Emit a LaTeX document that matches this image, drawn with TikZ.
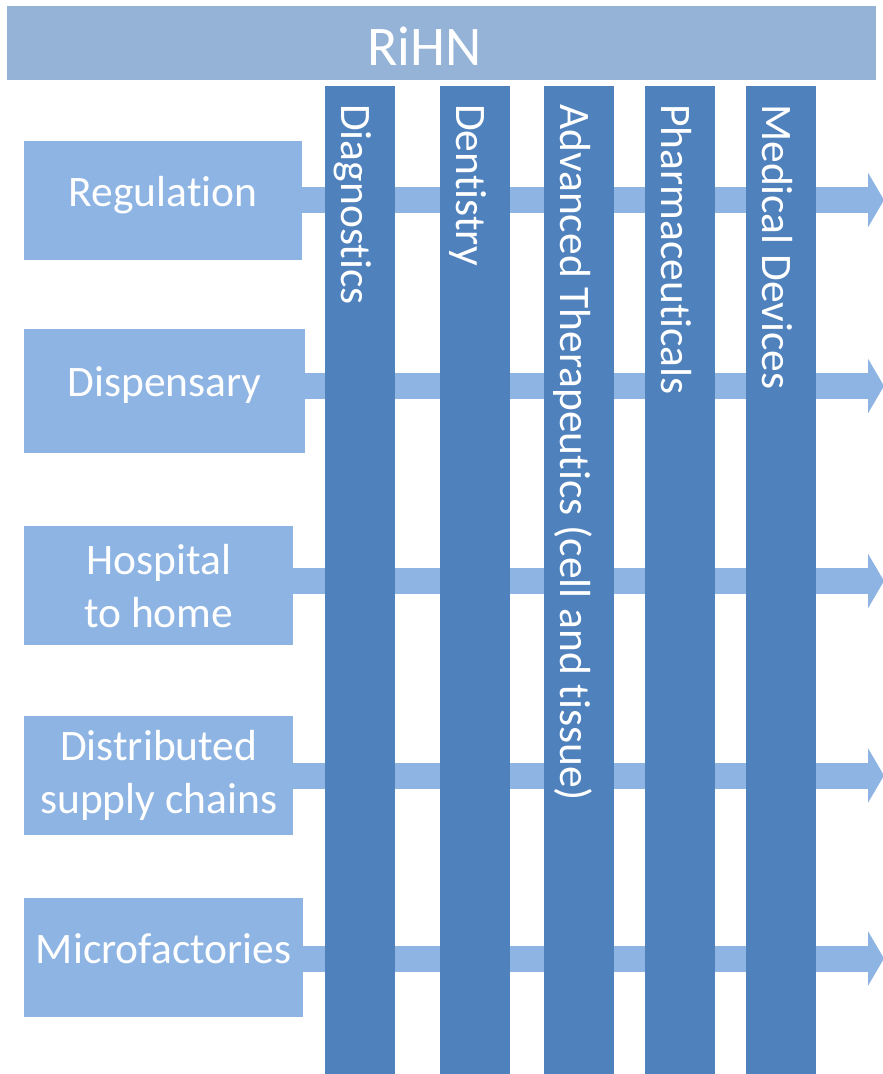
\documentclass[tikz,border=0pt]{standalone}
\usepackage{fontspec}
\setmainfont{Carlito}[Ligatures=NoCommon]
\usetikzlibrary{positioning, arrows.meta}
\definecolor{barBlue}{HTML}{95B3D7}
\definecolor{boxBlue}{HTML}{8EB4E3}
\definecolor{colBlue}{HTML}{4F81BD}
\tikzset{
    x=1pt, y=-1pt, % one unit per pixel, y grows downwards
    every node/.style={inner sep=0pt, text=white}, % white text, no padding
    >={Triangle[width=54pt, length=16pt]}, % wide flat arrow head
}

\begin{document}
\begin{tikzpicture}[
                    styleBar/.style={fill=barBlue, minimum width=869pt, minimum height=74pt, anchor=north west},
                    styleBox/.style={fill=boxBlue, align=center, anchor=north west, font=\fontsize{43.5}{53}\selectfont},
                    styleOneLine/.style={text depth=19pt},
                    styleCol/.style={fill=colBlue, minimum width=70pt, minimum height=988pt, anchor=north west},
                    styleColText/.style={rotate=-90, anchor=base west, font=\fontsize{43.5}{53}\selectfont},
                    styleFlow/.style={->, draw=boxBlue, line width=26pt},
                ]
                \useasboundingbox (0,0) rectangle (883,1074);

                % title bar
                \node[styleBar] (rihn) at (7,6) {};
                \node[anchor=base, font=\fontsize{56}{68}\selectfont] (rihnText) at ([xshift=-17pt, yshift=-22pt]rihn.center) {RiHN};

                % boxes on the left
                \node[styleBox, styleOneLine, minimum width=278pt, minimum height=119pt] (reg) at (24,141) {Regulation};
                \node[styleBox, styleOneLine, minimum width=281pt, minimum height=124pt] (disp) at (24,329) {Dispensary};
                \node[styleBox, minimum width=269pt, minimum height=119pt] (hosp) at (24,526) {Hospital\\to home};
                \node[styleBox, minimum width=269pt, minimum height=119pt] (dist) at (24,716) {Distributed\\supply chains};
                \node[styleBox, styleOneLine, minimum width=279pt, minimum height=119pt] (micro) at (24,898) {Microfactories};

                % ends of the flows
                \coordinate (regEnd) at (884,200);
                \coordinate (dispEnd) at (884,386);
                \coordinate (hospEnd) at (884,581);
                \coordinate (distEnd) at (884,775.5);
                \coordinate (microEnd) at (884,958.5);

                \draw[styleFlow] (reg.east |- regEnd) -- (regEnd);
                \draw[styleFlow] (disp.east |- dispEnd) -- (dispEnd);
                \draw[styleFlow] (hosp.east |- hospEnd) -- (hospEnd);
                \draw[styleFlow] (dist.east |- distEnd) -- (distEnd);
                \draw[styleFlow] (micro.east |- microEnd) -- (microEnd);

                % columns
                \node[styleCol] (diag) at (325,86) {};
                \node[styleCol] (dent) at (440,86) {};
                \node[styleCol] (adv) at (544,86) {};
                \node[styleCol] (pharm) at (645,86) {};
                \node[styleCol] (med) at (746,86) {};

                \node[styleColText] (diagText) at ([xshift=16pt, yshift=-18pt]diag.north west) {Diagnostics};
                \node[styleColText] (dentText) at ([xshift=16pt, yshift=-18pt]dent.north west) {Dentistry};
                \node[styleColText] (advText) at ([xshift=16pt, yshift=-18pt]adv.north west) {Advanced Therapeutics (cell and tissue)};
                \node[styleColText] (pharmText) at ([xshift=16pt, yshift=-18pt]pharm.north west) {Pharmaceuticals};
                \node[styleColText] (medText) at ([xshift=16pt, yshift=-18pt]med.north west) {Medical Devices};
            \end{tikzpicture}
\end{document}
